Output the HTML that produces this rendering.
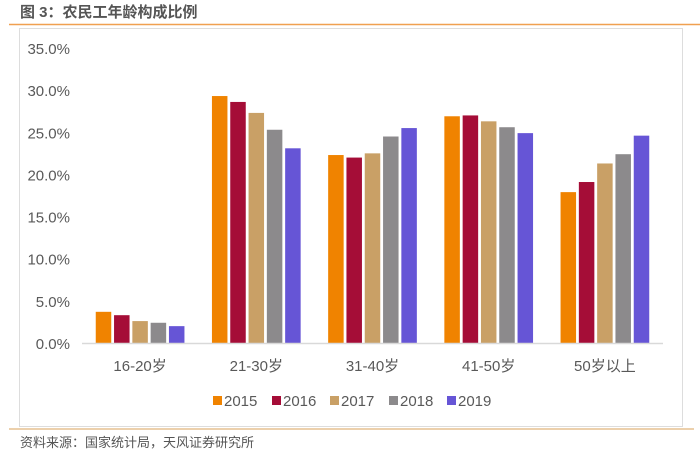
<!DOCTYPE html>
<html><head><meta charset="utf-8"><style>
body{margin:0;background:#fff;font-family:"Liberation Sans","Noto Sans CJK SC",sans-serif;}
#wrap{position:relative;width:700px;height:453px;overflow:hidden;}
</style></head><body>
<div id="wrap">
<svg width="700" height="453" xmlns="http://www.w3.org/2000/svg">
<text x="20" y="17" font-size="15" font-weight="bold" fill="#555" font-family="Liberation Sans, Noto Sans CJK SC, sans-serif">图 3：农民工年龄构成比例</text>
<line x1="9" y1="24.5" x2="700" y2="24.5" stroke="#f0a050" stroke-width="1.5"/>
<rect x="19.5" y="28.5" width="663" height="398" fill="#fff" stroke="#ddd"/>
<line x1="9" y1="429" x2="694" y2="429" stroke="#e6c090" stroke-width="1.5"/>
<text x="20" y="447" font-size="13" fill="#555" font-family="Liberation Sans, Noto Sans CJK SC, sans-serif">资料来源：国家统计局，天风证券研究所</text>
<g id="plot"></g>
</svg>
</div>
<script>
const categories=["16-20岁","21-30岁","31-40岁","41-50岁","50岁以上"];
const seriesNames=["2015","2016","2017","2018","2019"];
const s2015=[3.7,29.3,22.3,26.9,17.9];
const s2016=[3.3,28.6,22.0,27.0,19.1];
const s2017=[2.6,27.3,22.5,26.3,21.3];
const s2018=[2.4,25.3,24.5,25.6,22.4];
const s2019=[2.0,23.1,25.5,24.9,24.6];
const yTicks=[0,5,10,15,20,25,30,35];
const colors=["#f08300","#a50d37","#c9a066","#8c8a8c","#6655d6"];
const series=[s2015,s2016,s2017,s2018,s2019];
const NS="http://www.w3.org/2000/svg";
const g=document.getElementById('plot');
const X0=82,X1=663,Y0=343,Y35=48;
const y=v=>Y0-(v/35)*(Y0-Y35);
const band=(X1-X0)/categories.length;
const xc=i=>X0+band*(i+0.5);
const bw=15.5,step=18.3;
function mk(t,a){const e=document.createElementNS(NS,t);for(const k in a)e.setAttribute(k,a[k]);g.appendChild(e);return e;}
yTicks.forEach(t=>{
 const e=mk('text',{x:70,y:y(t)+6,'text-anchor':'end','font-size':'15',fill:'#595959'});
 e.textContent=t.toFixed(1)+'%';
 
 
});
series.forEach((s,si)=>{
 s.forEach((v,i)=>{
  const x=xc(i)+(si-2)*step-bw/2;
  const r=mk('rect',{x:x,y:y(v),width:bw,height:Y0-y(v),fill:colors[si]});
  
  
 });
});
const ax=mk('line',{x1:X0,y1:Y0+0.5,x2:X1,y2:Y0+0.5,stroke:'#d9d9d9','stroke-width':'1.5'});


categories.forEach((c,i)=>{
 const e=mk('text',{x:xc(i),y:371,'text-anchor':'middle','font-size':'15',fill:'#595959'});
 e.textContent=c;
 
 
});
const lx=[213,272,330,389,447];
seriesNames.forEach((n,i)=>{
 const r=mk('rect',{x:lx[i],y:396,width:9,height:9,fill:colors[i]});
 
 
 const t=mk('text',{x:lx[i]+11,y:406,'font-size':'15',fill:'#595959'});
 t.textContent=n;
 
 
});
</script>
</body></html>
